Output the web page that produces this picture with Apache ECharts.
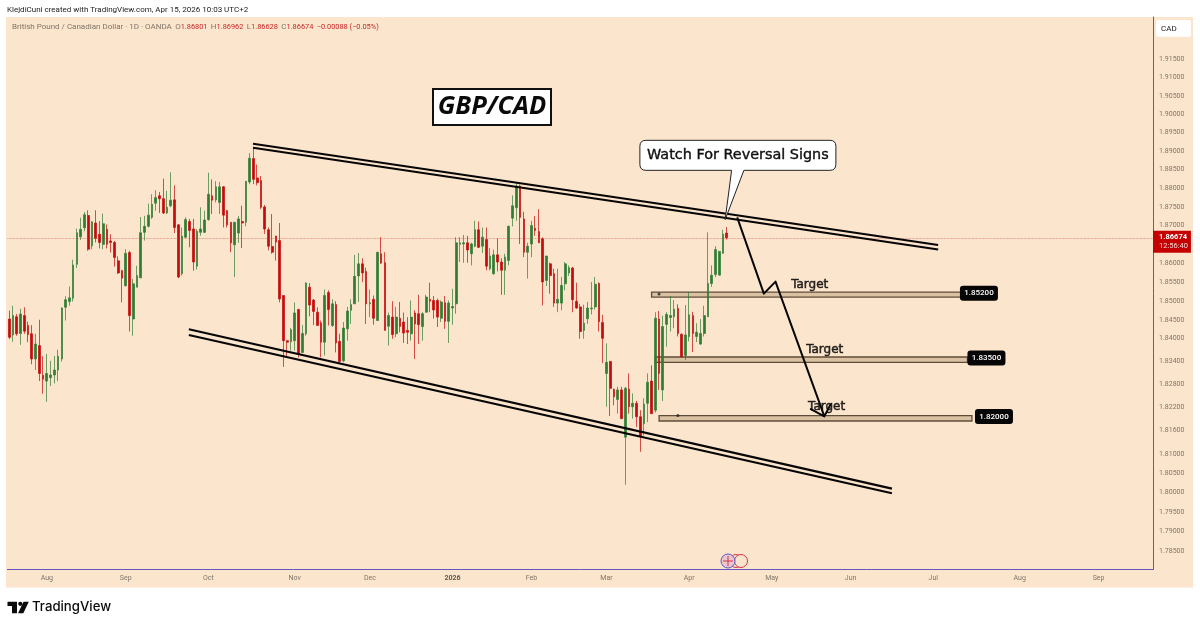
<!DOCTYPE html>
<html>
<head>
<meta charset="utf-8">
<style>
html, body { margin: 0; padding: 0; background: #fff; }
#chart { width: 1200px; height: 627px; }
</style>
<script src="https://cdn.jsdelivr.net/npm/echarts@6/dist/echarts.min.js"></script>
</head>
<body>
<div id="chart"></div>
<script>
// GBP/CAD daily candles
const opens = [
  1.8452,1.8410,1.8458,1.8414,1.8461,1.8435,1.8413,1.8347,1.8382,1.8304,
  1.8289,1.8298,1.8305,1.8318,1.8347,1.8483,1.8498,1.8507,1.8597,1.8670,
  1.8694,1.8727,1.8646,1.8707,1.8677,1.8650,1.8690,1.8659,1.8655,1.8606,
  1.8580,1.8540,1.8628,1.8452,1.8536,1.8561,1.8682,1.8698,1.8722,1.8760,
  1.8780,1.8772,1.8734,1.8753,1.8769,1.8702,1.8572,1.8669,1.8711,1.8691,
  1.8592,1.8682,1.8682,1.8716,1.8780,1.8769,1.8762,1.8804,1.8740,1.8709,
  1.8649,1.8680,1.8711,1.8709,1.8817,1.8880,1.8828,1.8821,1.8750,1.8689,
  1.8644,1.8672,1.8660,1.8514,1.8395,1.8392,1.8395,1.8477,1.8364,1.8413,
  1.8536,1.8502,1.8470,1.8442,1.8391,1.8522,1.8435,1.8490,1.8393,1.8342,
  1.8426,1.8475,1.8492,1.8566,1.8598,1.8578,1.8492,1.8504,1.8448,1.8625,
  1.8601,1.8433,1.8457,1.8413,1.8454,1.8444,1.8422,1.8413,1.8468,1.8466,
  1.8432,1.8470,1.8504,1.8501,1.8501,1.8454,1.8495,1.8446,1.8481,1.8492,
  1.8650,1.8651,1.8654,1.8625,1.8645,1.8689,1.8645,1.8663,1.8585,1.8572,
  1.8622,1.8603,1.8581,1.8607,1.8720,1.8748,1.8806,1.8718,1.8629,1.8651,
  1.8693,1.8684,1.8665,1.8554,1.8598,1.8572,1.8494,1.8494,1.8545,1.8574,
  1.8587,1.8499,1.8484,1.8422,1.8453,1.8479,1.8484,1.8546,1.8443,1.8309,
  1.8340,1.8267,1.8241,1.8266,1.8143,1.8268,1.8222,1.8231,1.8196,1.8178,
  1.8231,1.8289,1.8213,1.8452,1.8266,1.8438,1.8456,1.8458,1.8480,1.8412,
  1.8356,1.8406,1.8461,1.8406,1.8386,1.8414,1.8458,1.8546,1.8570,1.8568,
  1.8626,1.86801
];
const highs = [
  1.8474,1.8487,1.8465,1.8479,1.8483,1.8445,1.8436,1.8413,1.8450,1.8354,
  1.8360,1.8342,1.8355,1.8371,1.8483,1.8512,1.8538,1.8609,1.8692,1.8721,
  1.8736,1.8741,1.8712,1.8741,1.8712,1.8732,1.8703,1.8677,1.8659,1.8618,
  1.8582,1.8637,1.8633,1.8558,1.8593,1.8723,1.8726,1.8759,1.8784,1.8795,
  1.8790,1.8826,1.8793,1.8843,1.8808,1.8704,1.8695,1.8722,1.8718,1.8718,
  1.8691,1.8749,1.8740,1.8842,1.8824,1.8819,1.8817,1.8806,1.8742,1.8709,
  1.8709,1.8726,1.8753,1.8819,1.8895,1.8912,1.8864,1.8833,1.8755,1.8695,
  1.8731,1.8673,1.8707,1.8514,1.8395,1.8428,1.8496,1.8479,1.8436,1.8549,
  1.8547,1.8505,1.8483,1.8448,1.8530,1.8528,1.8504,1.8499,1.8413,1.8444,
  1.8484,1.8504,1.8622,1.8627,1.8613,1.8588,1.8530,1.8514,1.8629,1.8669,
  1.8629,1.8469,1.8499,1.8484,1.8497,1.8469,1.8457,1.8501,1.8475,1.8516,
  1.8470,1.8516,1.8548,1.8513,1.8506,1.8501,1.8513,1.8501,1.8532,1.8669,
  1.8669,1.8675,1.8673,1.8654,1.8713,1.8711,1.8695,1.8695,1.8640,1.8636,
  1.8666,1.8613,1.8625,1.8700,1.8781,1.8815,1.8810,1.8737,1.8654,1.8713,
  1.8726,1.8744,1.8669,1.8619,1.8601,1.8585,1.8585,1.8563,1.8603,1.8594,
  1.8590,1.8548,1.8492,1.8490,1.8497,1.8550,1.8563,1.8549,1.8463,1.8388,
  1.8342,1.8270,1.8274,1.8274,1.8274,1.8309,1.8257,1.8237,1.8213,1.8244,
  1.8309,1.8330,1.8470,1.8473,1.8461,1.8470,1.8513,1.8502,1.8491,1.8414,
  1.8489,1.8524,1.8471,1.8441,1.8452,1.8487,1.8682,1.8594,1.8645,1.8633,
  1.8689,1.86962
];
const lows = [
  1.8399,1.8392,1.8408,1.8384,1.8413,1.8391,1.8333,1.8318,1.8289,1.8256,
  1.8235,1.8276,1.8283,1.8289,1.8340,1.8448,1.8487,1.8498,1.8587,1.8662,
  1.8685,1.8633,1.8637,1.8655,1.8639,1.8637,1.8639,1.8628,1.8591,1.8571,
  1.8496,1.8538,1.8419,1.8408,1.8536,1.8560,1.8660,1.8695,1.8718,1.8740,
  1.8734,1.8731,1.8731,1.8749,1.8680,1.8560,1.8567,1.8667,1.8642,1.8580,
  1.8583,1.8673,1.8680,1.8713,1.8731,1.8762,1.8731,1.8695,1.8695,1.8629,
  1.8563,1.8654,1.8640,1.8698,1.8811,1.8811,1.8808,1.8744,1.8678,1.8634,
  1.8625,1.8607,1.8496,1.8326,1.8355,1.8369,1.8369,1.8351,1.8362,1.8408,
  1.8459,1.8436,1.8435,1.8351,1.8356,1.8435,1.8431,1.8364,1.8338,1.8338,
  1.8395,1.8439,1.8492,1.8497,1.8550,1.8439,1.8457,1.8437,1.8448,1.8598,
  1.8422,1.8382,1.8400,1.8404,1.8417,1.8389,1.8386,1.8395,1.8347,1.8386,
  1.8395,1.8469,1.8470,1.8453,1.8431,1.8444,1.8426,1.8389,1.8437,1.8466,
  1.8603,1.8601,1.8601,1.8594,1.8642,1.8640,1.8627,1.8581,1.8581,1.8569,
  1.8578,1.8516,1.8516,1.8594,1.8698,1.8713,1.8651,1.8616,1.8559,1.8616,
  1.8673,1.8654,1.8488,1.8539,1.8519,1.8484,1.8470,1.8475,1.8528,1.8566,
  1.8470,1.8479,1.8400,1.8400,1.8439,1.8464,1.8477,1.8419,1.8336,1.8222,
  1.8198,1.8226,1.8204,1.8191,1.8020,1.8204,1.8191,1.8169,1.8105,1.8147,
  1.8182,1.8204,1.8207,1.8266,1.8237,1.8379,1.8419,1.8428,1.8406,1.8351,
  1.8344,1.8393,1.8365,1.8391,1.8384,1.8406,1.8458,1.8537,1.8563,1.8568,
  1.8625,1.86628
];
const closes = [
  1.8404,1.8461,1.8413,1.8465,1.8420,1.8411,1.8347,1.8386,1.8309,1.8294,
  1.8309,1.8305,1.8318,1.8354,1.8481,1.8503,1.8508,1.8595,1.8681,1.8690,
  1.8729,1.8637,1.8710,1.8666,1.8655,1.8705,1.8650,1.8655,1.8615,1.8574,
  1.8560,1.8626,1.8461,1.8545,1.8567,1.8681,1.8698,1.8728,1.8757,1.8775,
  1.8772,1.8734,1.8749,1.8768,1.8695,1.8563,1.8672,1.8716,1.8687,1.8603,
  1.8685,1.8691,1.8715,1.8784,1.8768,1.8804,1.8804,1.8728,1.8702,1.8654,
  1.8709,1.8718,1.8707,1.8819,1.8881,1.8824,1.8815,1.8749,1.8691,1.8645,
  1.8629,1.8656,1.8505,1.8395,1.8391,1.8424,1.8468,1.8360,1.8414,1.8547,
  1.8489,1.8472,1.8435,1.8391,1.8514,1.8477,1.8492,1.8389,1.8340,1.8428,
  1.8473,1.8490,1.8565,1.8598,1.8574,1.8492,1.8495,1.8454,1.8629,1.8600,
  1.8422,1.8461,1.8411,1.8457,1.8432,1.8415,1.8417,1.8457,1.8439,1.8437,
  1.8466,1.8510,1.8499,1.8476,1.8457,1.8497,1.8446,1.8494,1.8485,1.8654,
  1.8654,1.8654,1.8635,1.8651,1.8689,1.8642,1.8669,1.8592,1.8619,1.8622,
  1.8603,1.8581,1.8616,1.8698,1.8753,1.8806,1.8722,1.8629,1.8645,1.8700,
  1.8687,1.8654,1.8550,1.8619,1.8567,1.8494,1.8504,1.8541,1.8598,1.8588,
  1.8503,1.8481,1.8419,1.8441,1.8481,1.8481,1.8544,1.8445,1.8401,1.8338,
  1.8270,1.8248,1.8266,1.8191,1.8270,1.8222,1.8231,1.8196,1.8145,1.8229,
  1.8286,1.8204,1.8454,1.8309,1.8432,1.8464,1.8461,1.8478,1.8414,1.8353,
  1.8410,1.8463,1.8414,1.8417,1.8414,1.8461,1.8546,1.8568,1.8636,1.8631,
  1.8677,1.86674
];

// time axis: bar slots incl. the empty space right of the last candle
const barCount = 305;
const monthLabels = ['Aug','Sep','Oct','Nov','Dec','2026','Feb','Mar','Apr','May','Jun','Jul','Aug','Sep'];
const monthBars = [10,31,53,76,96,118,139,159,181,203,224,246,269,290];
const categories = Array.from({length: barCount}, (_, i) => 'bar' + i);

// price axis
const priceTicks = [1.915,1.91,1.905,1.90,1.895,1.89,1.885,1.88,1.875,1.87,1.86,1.855,1.85,1.845,1.84,
  1.834,1.828,1.822,1.816,1.81,1.805,1.80,1.795,1.79,1.785];
const lastPrice = 1.86674;

// drawn lines, [bar position, price]
const upperLineA = [[64.9,1.8920],[247.3,1.8648]];
const upperLineB = [[64.9,1.8909],[247.3,1.8636]];
const lowerLineA = [[47.8,1.8425],[235.0,1.8010]];
const lowerLineB = [[47.8,1.8410],[235.0,1.7998]];
const arrowPath = [[193.8,1.8722],[200.9,1.8519],[204.0,1.8551],[217.0,1.8197],[213.4,1.8216],[217.0,1.8197],[218.7,1.8229]];

// target zones
const targetStart = [171,172,173];
const targetEnd = [253.4,255.1,256.3];
const targetTop = [1.8523,1.8352,1.8199];
const targetBottom = [1.8510,1.8338,1.8185];
const targetTagStart = [253.1,255.1,257.1];
const targetLabels = ['1.85200','1.83500','1.82000'];
const targetTextBars = [213.1,217.1,217.6];
const targetTextPrices = [1.8543,1.8371,1.8221];
const zoneDots = [[173,1.8518],[178,1.8199]];

const calloutTip = [190.6,1.8716];

const FONT = 'Roboto, "Liberation Sans", sans-serif';
const GREEN = '#2e7d32';
const RED = '#c40a0a';
const AXIS = '#6257c0';

function renderZone(params, api) {
    const tl = api.coord([api.value(0), api.value(2)]);
    const br = api.coord([api.value(1), api.value(3)]);
    const tagX = api.coord([api.value(4), api.value(2)])[0];
    const tagW = 38, tagH = 15;
    return {
        type: 'group',
        children: [
            {
                type: 'rect',
                shape: {x: tl[0], y: tl[1], width: br[0] - tl[0], height: br[1] - tl[1]},
                style: {fill: '#d9c1a2', stroke: '#5f4c38', lineWidth: 1.3}
            },
            {
                type: 'rect',
                shape: {x: tagX, y: tl[1] + 1 - tagH / 2, width: tagW, height: tagH, r: 3},
                style: {fill: '#060606'}
            },
            {
                type: 'text',
                x: tagX + tagW / 2,
                y: tl[1] + 1,
                style: {text: targetLabels[params.dataIndex], fill: '#fff', font: '500 8px ' + FONT, align: 'center', verticalAlign: 'middle'}
            }
        ]
    };
}

function renderCallout(params, api) {
    const tip = api.coord([api.value(0), api.value(1)]);
    const l = tip[0] - 85.3, r = tip[0] + 110.7, t = tip[1] - 79.3, b = tip[1] - 49.3, c = 6;
    const d = 'M' + (l + c) + ' ' + t + 'L' + (r - c) + ' ' + t + 'Q' + r + ' ' + t + ' ' + r + ' ' + (t + c)
        + 'L' + r + ' ' + (b - c) + 'Q' + r + ' ' + b + ' ' + (r - c) + ' ' + b
        + 'L' + (tip[0] + 18.7) + ' ' + b + 'L' + tip[0] + ' ' + tip[1] + 'L' + (tip[0] + 6.4) + ' ' + b
        + 'L' + (l + c) + ' ' + b + 'Q' + l + ' ' + b + ' ' + l + ' ' + (b - c)
        + 'L' + l + ' ' + (t + c) + 'Q' + l + ' ' + t + ' ' + (l + c) + ' ' + t + 'Z';
    return {
        type: 'group',
        children: [
            {type: 'path', shape: {pathData: d}, style: {fill: '#fff', stroke: '#222', lineWidth: 1}},
            {
                type: 'text',
                x: (l + r) / 2,
                y: (t + b) / 2,
                style: {text: 'Watch For Reversal Signs', fill: '#111', font: '14.4px "DejaVu Sans"', align: 'center', verticalAlign: 'middle', stroke: '#111', lineWidth: 0.4}
            }
        ]
    };
}

function lineSeries(name, points, width) {
    return {
        name: name,
        type: 'line',
        xAxisIndex: 1,
        data: points,
        showSymbol: false,
        symbol: 'none',
        silent: true,
        z: 5,
        lineStyle: {color: '#060606', width: width, join: 'round'}
    };
}

function chromeGraphics() {
    return [
        {type: 'rect', z: -100, silent: true, shape: {x: 6, y: 17, width: 1187, height: 570.5}, style: {fill: '#fce5cd'}},
        {type: 'text', x: 7, y: 10, silent: true, style: {
            text: 'KlejdiCuni created with TradingView.com, Apr 15, 2026 10:03 UTC+2',
            font: '8px ' + FONT, fill: '#222', verticalAlign: 'middle'}},
        {type: 'text', x: 12, y: 27, silent: true, style: {
            text: '{g|British Pound / Canadian Dollar · 1D · OANDA} {g|O}{r|1.86801} {g|H}{r|1.86962} {g|L}{r|1.86628} {g|C}{r|1.86674} {r|−0.00088 (−0.05%)}',
            verticalAlign: 'middle',
            rich: {
                g: {font: '8px ' + FONT, fill: '#7f7568'},
                r: {font: '7.4px ' + FONT, fill: '#c62828'}
            }}},
        // price scale currency box
        {type: 'rect', silent: true, shape: {x: 1156, y: 20, width: 35, height: 16.7, r: 2}, style: {fill: '#fff'}},
        {type: 'text', x: 1161, y: 29, silent: true, style: {text: 'CAD', font: '8px ' + FONT, fill: '#222', verticalAlign: 'middle'}},
        // title card
        {type: 'rect', silent: true, z: 6, shape: {x: 433, y: 89, width: 118, height: 36}, style: {fill: '#fff', stroke: '#111', lineWidth: 2}},
        {type: 'text', x: 492, y: 107, silent: true, z: 7, style: {
            text: 'GBP/CAD', font: 'italic 700 25.5px "Open Sans"', fill: '#0a0a0a', align: 'center', verticalAlign: 'middle'}},
        // economic event markers
        {type: 'circle', silent: true, z: 6, shape: {cx: 736, cy: 561, r: 6.5}, style: {fill: '#fce5cd', stroke: '#d8344a', lineWidth: 1}},
        {type: 'circle', silent: true, z: 6, shape: {cx: 741, cy: 561, r: 6.5}, style: {fill: '#fce5cd', stroke: '#d8344a', lineWidth: 1}},
        {type: 'circle', silent: true, z: 6, shape: {cx: 728, cy: 561, r: 7}, style: {fill: '#e9c7cf', stroke: '#6257c0', lineWidth: 1}},
        {type: 'line', silent: true, z: 7, shape: {x1: 728, y1: 556, x2: 728, y2: 566}, style: {stroke: '#d8344a', lineWidth: 1}},
        {type: 'line', silent: true, z: 7, shape: {x1: 723, y1: 561, x2: 733, y2: 561}, style: {stroke: '#d8344a', lineWidth: 1}},
        // logo
        {type: 'polygon', silent: true, shape: {points: [[7.5,601.7],[17,601.7],[17,613.3],[12,613.3],[12,606],[7.5,606]]}, style: {fill: '#0b0b0b'}},
        {type: 'circle', silent: true, shape: {cx: 20.3, cy: 603.8, r: 2.1}, style: {fill: '#0b0b0b'}},
        {type: 'polygon', silent: true, shape: {points: [[23.5,601.7],[28.8,601.7],[23.3,613.3],[18,613.3]]}, style: {fill: '#0b0b0b'}},
        {type: 'text', x: 32, y: 607, silent: true, style: {text: 'TradingView', font: '500 13.2px Inter', fill: '#0b0b0b', verticalAlign: 'middle'}}
    ];
}

const option = {
    animation: false,
    backgroundColor: '#ffffff',
    textStyle: {fontFamily: FONT},
    grid: {left: 7.4, top: 17, width: 1145.6, height: 552.5, containLabel: false},
    xAxis: [
        {
            type: 'category',
            data: categories,
            boundaryGap: true,
            axisLine: {lineStyle: {color: AXIS, width: 1}},
            axisTick: {show: false},
            splitLine: {show: false},
            axisLabel: {
                interval: (i) => monthBars.indexOf(i) >= 0,
                formatter: (v, i) => {
                    const label = monthLabels[monthBars.indexOf(i)];
                    return label === '2026' ? '{b|2026}' : label;
                },
                rich: {b: {fontWeight: 'bold', fontSize: 7, color: '#5f574c', fontFamily: FONT}},
                color: '#7f7568',
                fontSize: 7,
                margin: 5
            }
        },
        {
            type: 'value',
            min: -0.5,
            max: barCount - 0.5,
            show: false
        }
    ],
    yAxis: {
        type: 'log',
        position: 'right',
        min: 1.7803,
        max: 1.9266,
        axisLine: {show: true, onZero: false, lineStyle: {color: AXIS, width: 1}},
        axisTick: {show: false},
        splitLine: {show: false},
        minorSplitLine: {show: false},
        axisLabel: {
            customValues: priceTicks,
            formatter: (v) => v.toFixed(5),
            color: '#7f7568',
            fontSize: 7,
            margin: 6
        }
    },
    graphic: {elements: chromeGraphics()},
    series: [
        {
            name: 'zones',
            type: 'custom',
            xAxisIndex: 1,
            z: 1,
            silent: true,
            clip: false,
            renderItem: renderZone,
            encode: {x: [0, 1, 4], y: [2, 3]},
            data: targetStart.map((s, i) => [s, targetEnd[i], targetTop[i], targetBottom[i], targetTagStart[i]])
        },
        {
            name: 'GBPCAD',
            type: 'candlestick',
            xAxisIndex: 0,
            z: 2,
            barWidth: 2.2,
            silent: true,
            data: opens.map((o, i) => [o, closes[i], lows[i], highs[i]]),
            itemStyle: {
                color: GREEN,
                color0: RED,
                borderColor: GREEN,
                borderColor0: RED,
                borderWidth: 0.7
            },
            markLine: {
                silent: true,
                symbol: 'none',
                animation: false,
                precision: 5,
                data: [{yAxis: lastPrice}],
                lineStyle: {color: 'rgba(208,64,60,0.75)', type: 'dotted', width: 0.7},
                label: {
                    show: true,
                    position: 'end',
                    distance: 0,
                    offset: [0, 4],
                    formatter: '{a|1.86674}\n{b|12:56:40}',
                    backgroundColor: '#c40000',
                    padding: [2, 3, 2, 6],
                    rich: {
                        a: {color: '#fff', fontSize: 7.5, fontWeight: 'bold', lineHeight: 9, fontFamily: FONT},
                        b: {color: '#f7d9d9', fontSize: 7.5, lineHeight: 9, fontFamily: FONT}
                    }
                }
            }
        },
        lineSeries('upperA', upperLineA, 2),
        lineSeries('upperB', upperLineB, 2),
        lineSeries('lowerA', lowerLineA, 2.2),
        lineSeries('lowerB', lowerLineB, 2.2),
        lineSeries('arrow', arrowPath, 2),
        {
            name: 'zoneDots',
            type: 'scatter',
            xAxisIndex: 1,
            z: 4,
            silent: true,
            symbolSize: 3,
            itemStyle: {color: '#222'},
            data: zoneDots
        },
        {
            name: 'targetTexts',
            type: 'scatter',
            xAxisIndex: 1,
            z: 6,
            silent: true,
            symbolSize: 0,
            data: targetTextBars.map((b, i) => [b, targetTextPrices[i]]),
            label: {
                show: true,
                position: 'inside',
                formatter: 'Target',
                fontFamily: '"DejaVu Sans"',
                fontSize: 12,
                color: '#000',
                textBorderColor: '#000',
                textBorderWidth: 0.5
            }
        },
        {
            name: 'callout',
            type: 'custom',
            xAxisIndex: 1,
            z: 7,
            silent: true,
            clip: false,
            renderItem: renderCallout,
            encode: {x: 0, y: 1},
            data: [calloutTip]
        }
    ]
};

const chart = echarts.init(document.getElementById('chart'), null, {renderer: 'canvas'});
chart.setOption(option);
</script>
</body>
</html>
